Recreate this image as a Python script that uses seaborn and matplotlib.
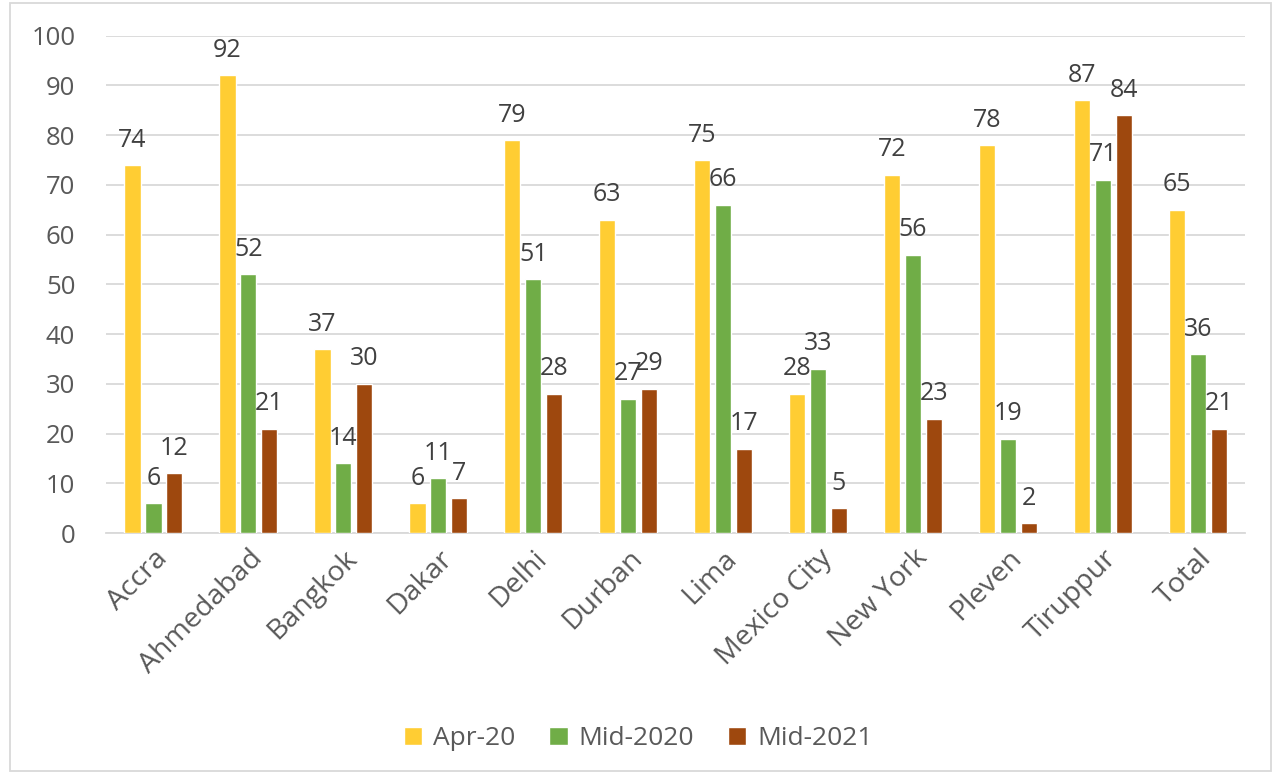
import pandas as pd
import matplotlib.pyplot as plt
import seaborn as sns
from matplotlib.patches import Rectangle

cities = ["Accra", "Ahmedabad", "Bangkok", "Dakar", "Delhi", "Durban", "Lima",
          "Mexico City", "New York", "Pleven", "Tiruppur", "Total"]
apr_20 = [74, 92, 37, 6, 79, 63, 75, 28, 72, 78, 87, 65]
mid_2020 = [6, 52, 14, 11, 51, 27, 66, 33, 56, 19, 71, 36]
mid_2021 = [12, 21, 30, 7, 28, 29, 17, 5, 23, 2, 84, 21]
series = ["Apr-20", "Mid-2020", "Mid-2021"]
colors = ["#FFCD33", "#70AD47", "#9E480E"]

df = pd.DataFrame({"city": cities * 3,
                   "period": [s for s in series for _ in cities],
                   "value": apr_20 + mid_2020 + mid_2021})

sns.set_style("white")
plt.rcParams["font.family"] = ["Open Sans", "DejaVu Sans"]

fig = plt.figure(figsize=(12.76, 7.76), dpi=100)
ax = fig.add_axes([0.083, 0.313, 0.893, 0.641])

sns.barplot(data=df, x="city", y="value", hue="period", palette=colors,
            saturation=1, width=0.66, gap=0.22, ax=ax, zorder=3)

for cont in ax.containers:
    ax.bar_label(cont, fmt="%d", padding=9, fontsize=18, color="#404040")

ax.set_ylim(0, 100)
ax.set_xlim(-0.5, len(cities) - 0.5)
ax.set_yticks(range(0, 101, 10))
ax.yaxis.grid(True, color="#D9D9D9", linewidth=1.3, zorder=0)
for s in ["left", "right", "top"]:
    ax.spines[s].set_visible(False)
ax.spines["bottom"].set_color("#D9D9D9")
ax.spines["bottom"].set_linewidth(1.3)
ax.tick_params(axis="y", labelsize=18.5, labelcolor="#595959", length=0, pad=22)
ax.tick_params(axis="x", labelsize=20.5, labelcolor="#595959", length=0, pad=8)
plt.setp(ax.get_xticklabels(), rotation=45, ha="right", rotation_mode="anchor")
ax.set_xlabel("")
ax.set_ylabel("")

ax.legend(loc="center", bbox_to_anchor=(0.5, 0.048),
          bbox_transform=fig.transFigure, ncol=3, frameon=False,
          fontsize=19, labelcolor="#595959", handlelength=0.7, handleheight=0.7,
          handletextpad=0.4, columnspacing=1.3)

fig.patches.append(Rectangle((0.008, 0.006), 0.988, 0.99, transform=fig.transFigure,
                             fill=False, edgecolor="#D9D9D9", linewidth=1.3))

fig.savefig("out.png", dpi=100)
